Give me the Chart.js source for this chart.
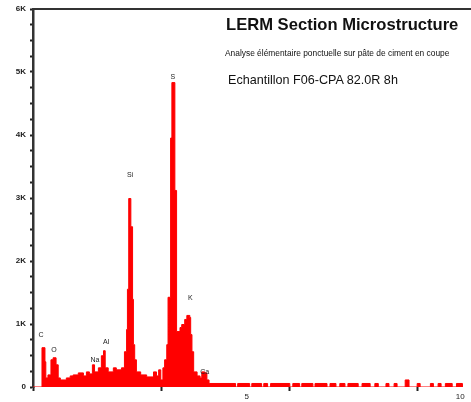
<!DOCTYPE html>
<html lang="fr">
<head>
    <meta charset="UTF-8">
    <title>LERM Section Microstructure</title>
    <script src="https://cdn.jsdelivr.net/npm/chart.js"></script>
    <style>
        body { margin: 0; background: #fff; }
        #wrap { position: relative; width: 471px; height: 402px; }
        .txt { position: absolute; white-space: nowrap; font-family: "Liberation Sans", Arial, sans-serif; color: #111; }
        #t1 { left: 226px; top: 15px; font-size: 16.6px; font-weight: bold; }
        #t2 { left: 225px; top: 48px; font-size: 8.4px; }
        #t3 { left: 228px; top: 73px; font-size: 12.6px; }
    </style>
</head>
<body>
<div id="wrap">
    <canvas id="spec"></canvas>
    <div class="txt" id="t1">LERM Section Microstructure</div>
    <div class="txt" id="t2">Analyse élémentaire ponctuelle sur pâte de ciment en coupe</div>
    <div class="txt" id="t3">Echantillon F06-CPA 82.0R 8h</div>
</div>
<script>
    // energie (keV) where each step starts, and counts for that step
    const energy = [0, 0.21, 0.28, 0.30, 0.35, 0.42, 0.47, 0.54, 0.59, 0.64, 0.78, 0.87, 0.94,
        1.06, 1.18, 1.25, 1.32, 1.39, 1.44, 1.53, 1.60, 1.65, 1.69, 1.76, 1.88, 1.95,
        2.07, 2.14, 2.19, 2.21, 2.24, 2.29, 2.33, 2.35, 2.38, 2.42, 2.52, 2.66, 2.82, 2.89, 2.94, 2.99,
        3.04, 3.08, 3.13, 3.16, 3.22, 3.25, 3.32, 3.36, 3.44, 3.48, 3.55, 3.60, 3.67, 3.69, 3.72, 3.76,
        3.84, 3.91, 3.95, 4.02, 4.07, 4.12, 4.74, 4.79, 5.07, 5.12, 5.35, 5.40, 5.49, 5.56,
        6.01, 6.08, 6.24, 6.29, 6.55, 6.60, 6.88, 6.95, 7.09, 7.18, 7.30, 7.37, 7.61, 7.70, 7.89,
        8.00, 8.08, 8.26, 8.33, 8.45, 8.52, 8.71, 8.80, 8.99, 9.06, 9.30, 9.37, 9.48, 9.55, 9.65,
        9.81, 9.91, 10.05];
    const counts = [0, 624, 400, 144, 192, 432, 464, 352, 144, 112, 144, 176, 192,
        224, 176, 240, 208, 352, 240, 304, 496, 576, 304, 240, 304, 272,
        304, 560, 912, 1552, 2992, 2544, 1392, 672, 432, 240, 192, 160, 240, 176, 272, 112,
        304, 432, 672, 1424, 3952, 4832, 3120, 880, 944, 992, 1072, 1136, 1104, 832, 560, 240,
        176, 144, 240, 224, 112, 56, 0, 56, 0, 56, 0, 56, 0, 56,
        0, 56, 0, 56, 0, 56, 0, 56, 0, 56, 0, 56, 0, 56, 0,
        56, 0, 56, 0, 56, 0, 112, 0, 56, 0, 56, 0, 56, 0, 56,
        0, 56, 0];

    // element labels on the peaks
    const peakNames = ['C', 'O', 'Na', 'Al', 'Si', 'S', 'K', 'Ca'];
    const peakEnergy = [0.19, 0.49, 1.45, 1.71, 2.27, 3.27, 3.68, 4.02];
    const peakCounts = [825, 590, 430, 715, 3365, 4920, 1410, 240];

    const yTickVals = [];
    for (let v = 0; v <= 6000; v += 250) yTickVals.push(v);
    const xTickVals = [0, 3, 5, 6, 9, 10];
    const xLabelled = [5, 10];

    const peakLabels = {
        id: 'peakLabels',
        afterDatasetsDraw(chart) {
            const ctx = chart.ctx;
            const xs = chart.scales.x, ys = chart.scales.y;
            ctx.save();
            ctx.fillStyle = '#222';
            ctx.font = '7px "Liberation Sans", Arial, sans-serif';
            ctx.textAlign = 'center';
            ctx.textBaseline = 'middle';
            peakNames.forEach((n, i) => {
                ctx.fillText(n, xs.getPixelForValue(peakEnergy[i]), ys.getPixelForValue(peakCounts[i]));
            });
            ctx.restore();
        }
    };

    new Chart(document.getElementById('spec'), {
        type: 'line',
        data: {
            datasets: [{
                data: energy.map((e, i) => ({ x: e, y: counts[i] })),
                stepped: 'before',
                fill: 'origin',
                backgroundColor: '#ff0000',
                borderColor: '#ff0000',
                borderWidth: 1,
                pointRadius: 0
            }]
        },
        options: {
            responsive: true,
            maintainAspectRatio: false,
            animation: false,
            layout: { padding: 0 },
            plugins: { legend: { display: false }, tooltip: { enabled: false } },
            scales: {
                x: {
                    type: 'linear', position: 'bottom', min: 0, max: 10.25,
                    afterBuildTicks: a => { a.ticks = xTickVals.map(v => ({ value: v })); },
                    afterFit: a => { a.height = 15; },
                    border: { display: false },
                    grid: {
                        drawOnChartArea: false, tickLength: 4, tickWidth: 2,
                        tickColor: c => xLabelled.includes(c.tick && c.tick.value) ? 'rgba(0,0,0,0)' : '#222'
                    },
                    ticks: {
                        autoSkip: false, maxRotation: 0, padding: 1, color: '#222',
                        font: { size: 8, family: '"Liberation Sans", Arial, sans-serif' },
                        callback: v => xLabelled.includes(v) ? String(v) : ''
                    }
                },
                xTop: {
                    type: 'linear', position: 'top',
                    afterFit: a => { a.height = 9; },
                    grid: { display: false },
                    ticks: { display: false },
                    border: { display: true, color: '#333', width: 2 }
                },
                y: {
                    min: 0, max: 6000,
                    afterBuildTicks: a => { a.ticks = yTickVals.map(v => ({ value: v })); },
                    afterFit: a => { a.width = 33; },
                    border: { display: true, color: '#333', width: 2.5 },
                    grid: { drawOnChartArea: false, tickLength: 3, tickWidth: 2, tickColor: '#222' },
                    ticks: {
                        autoSkip: false, padding: 4, color: '#222',
                        font: { size: 8, weight: 'bold', family: '"Liberation Sans", Arial, sans-serif' },
                        callback: v => v % 1000 === 0 ? (v === 0 ? '0' : (v / 1000) + 'K') : ''
                    }
                }
            }
        },
        plugins: [peakLabels]
    });
</script>
</body>
</html>
